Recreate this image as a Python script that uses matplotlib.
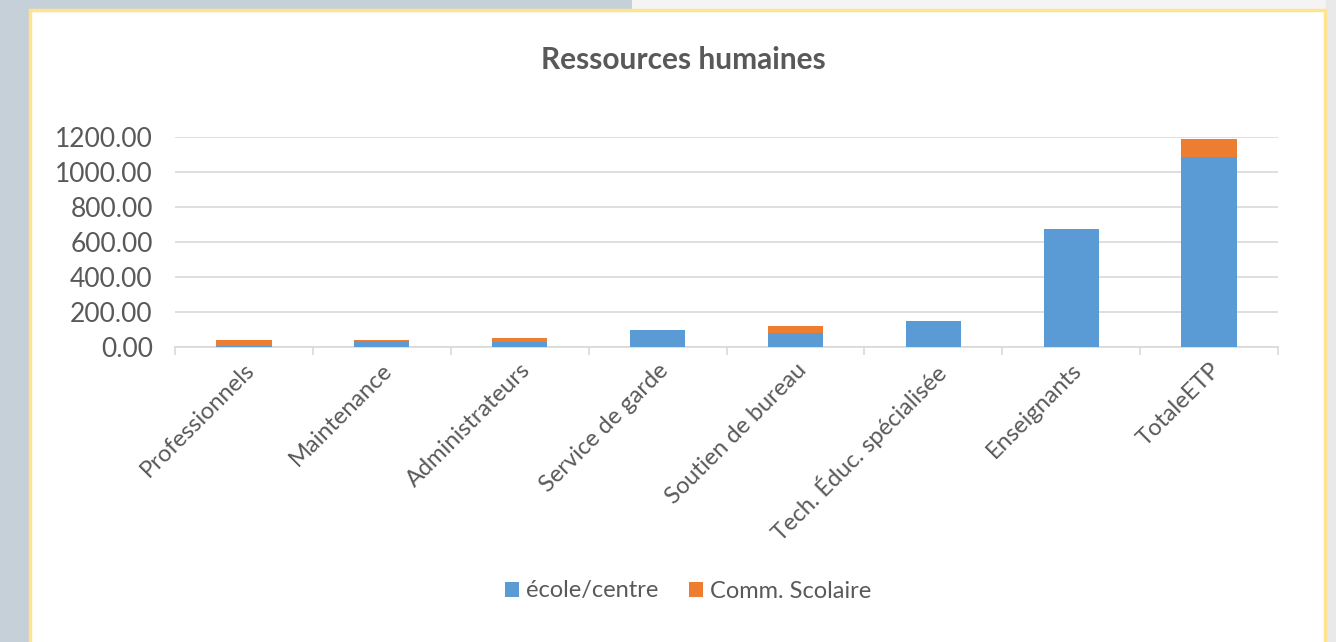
import numpy as np
import matplotlib.pyplot as plt
from matplotlib.patches import Rectangle

plt.rcParams["font.family"] = ["Lato", "DejaVu Sans"]

# 数据
categories = ["Professionnels", "Maintenance", "Administrateurs", "Service de garde",
              "Soutien de bureau", "Tech. Éduc. spécialisée", "Enseignants", "TotaleETP"]
ecole_centre = [5, 32, 28, 100, 78, 150, 675, 1085]
comm_scolaire = [33, 10, 26, 0, 44, 0, 0, 102]
y_ticks = [0, 200, 400, 600, 800, 1000, 1200]

BLUE = "#5B9BD5"
ORANGE = "#ED7D31"
TXT = "#595959"
GRID = "#D9D9D9"

W, H = 1336, 642
fig = plt.figure(figsize=(W / 100, H / 100), dpi=100)
fig.patch.set_facecolor("#C6D0D8")


def px_rect(x0, y0, x1, y1, **kw):
    # 像素坐标 (左上原点) -> figure 坐标
    return Rectangle((x0 / W, 1 - y1 / H), (x1 - x0) / W, (y1 - y0) / H,
                     transform=fig.transFigure, zorder=-5, **kw)


fig.patches.append(px_rect(632, 0, W, 10, facecolor="#F4F4F4", edgecolor="none"))
fig.patches.append(px_rect(1326, 0, W, H, facecolor="#E9E9E9", edgecolor="none"))
fig.patches.append(px_rect(30, 10, 1325, H + 10, facecolor="white",
                           edgecolor="#FFE38F", linewidth=2.5))

ax = fig.add_axes([175 / W, 1 - 347 / H, (1278 - 175) / W, (347 - 137) / H])
ax.set_facecolor("none")
ax.set_zorder(2)

x = np.arange(len(categories))
ax.bar(x, ecole_centre, width=0.4, color=BLUE, label="école/centre", zorder=3)
ax.bar(x, comm_scolaire, width=0.4, bottom=ecole_centre, color=ORANGE,
       label="Comm. Scolaire", zorder=3)

ax.set_xlim(-0.5, len(categories) - 0.5)
ax.set_ylim(0, 1200)
ax.set_yticks(y_ticks)
ax.set_yticklabels([f"{v:.2f}" for v in y_ticks])
ax.yaxis.grid(True, color=GRID, linewidth=1.2, zorder=0)
ax.tick_params(axis="y", length=0, pad=16, labelsize=19, labelcolor=TXT)

ax.set_xticks(x)
ax.set_xticklabels(categories, rotation=45, ha="right", rotation_mode="anchor",
                   fontsize=17, color=TXT)
ax.set_xticks(np.arange(len(categories) + 1) - 0.5, minor=True)
ax.tick_params(axis="x", which="major", length=0, pad=9)
ax.tick_params(axis="x", which="minor", length=6, color=GRID, width=1.2)

for s in ["top", "right", "left"]:
    ax.spines[s].set_visible(False)
ax.spines["bottom"].set_color(GRID)
ax.spines["bottom"].set_linewidth(1.2)

fig.text(683 / W, 1 - 60 / H, "Ressources humaines", ha="center", va="center",
         fontsize=21.5, fontweight="bold", color=TXT)

fig.legend(loc="center", bbox_to_anchor=(688 / W, 1 - 591 / H), ncol=2,
           frameon=False, fontsize=17, labelcolor=TXT, handlelength=0.6,
           handleheight=0.6, handletextpad=0.3, columnspacing=1.3)

fig.savefig("out.png", dpi=100, facecolor=fig.get_facecolor())
